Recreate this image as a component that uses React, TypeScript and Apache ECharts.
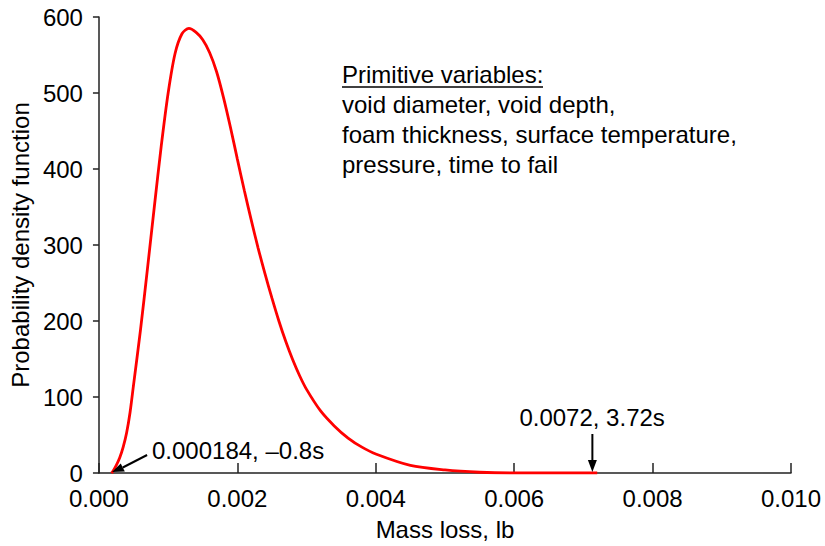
import React, { useEffect, useRef } from "react";
import * as echarts from "echarts";

const xTicks = [0, 0.002, 0.004, 0.006, 0.008, 0.01];
const yTicks = [0, 100, 200, 300, 400, 500, 600];

const massLoss = [
  0.00018, 0.0002, 0.00025, 0.0003, 0.00035, 0.0004, 0.00045, 0.0005, 0.0006,
  0.0007, 0.0008, 0.0009, 0.001, 0.0011, 0.0012, 0.0013, 0.0014, 0.0015,
  0.0016, 0.0017, 0.0018, 0.0019, 0.002, 0.0021, 0.0022, 0.0023, 0.0024,
  0.0025, 0.0026, 0.0027, 0.0028, 0.0029, 0.003, 0.0032, 0.0034, 0.0036,
  0.0038, 0.004, 0.0045, 0.005, 0.0055, 0.006, 0.0066, 0.0072,
];
const pdf = [
  0, 2, 10, 20, 34, 53, 80, 116, 188, 268, 350, 430, 500, 552, 578, 585, 580,
  570, 553, 528, 494, 455, 413, 372, 333, 296, 262, 230, 200, 173, 149, 128,
  110, 82, 62, 46, 34, 25, 10, 4, 1, 0, 0, 0,
];

const noteLines = [
  "Primitive variables:",
  "void diameter, void depth,",
  "foam thickness, surface temperature,",
  "pressure, time to fail",
];
const lowLabel = "0.000184, \u20130.8s";
const lowPoint = [0.00019, 0];
const highLabel = "0.0072, 3.72s";
const highPoint = [0.00713, 0];

const FONT = "'Liberation Sans', Arial, sans-serif";

export default function App() {
  const ref = useRef<HTMLDivElement>(null);
  useEffect(() => {
    if (!ref.current) return;
    const chart = echarts.init(ref.current, undefined, { renderer: "svg" });
    const option: any = {
      animation: false,
      backgroundColor: "#fff",
      textStyle: { fontFamily: FONT },
      grid: { left: 98, right: 34, top: 17, bottom: 72 },
      xAxis: {
        type: "value",
        min: xTicks[0],
        max: xTicks[xTicks.length - 1],
        interval: 0.002,
        name: "Mass loss, lb",
        nameLocation: "middle",
        nameGap: 44,
        nameTextStyle: { fontSize: 24, color: "#000", fontFamily: FONT },
        axisLine: { lineStyle: { color: "#222", width: 1.5 } },
        axisTick: { inside: true, length: 10, lineStyle: { color: "#222", width: 1.5 } },
        axisLabel: {
          fontSize: 24,
          color: "#000",
          margin: 13,
          fontFamily: FONT,
          formatter: (v: number) => v.toFixed(3),
        },
        splitLine: { show: false },
      },
      yAxis: {
        type: "value",
        min: yTicks[0],
        max: yTicks[yTicks.length - 1],
        interval: 100,
        name: "Probability density function",
        nameLocation: "middle",
        nameGap: 61,
        nameTextStyle: { fontSize: 24, color: "#000", fontFamily: FONT },
        axisLine: { show: true, lineStyle: { color: "#222", width: 1.5 } },
        axisTick: { show: true, inside: false, length: 6, lineStyle: { color: "#222", width: 1.5 } },
        axisLabel: { fontSize: 24, color: "#000", margin: 16, fontFamily: FONT },
        splitLine: { show: false },
      },
      series: [
        {
          type: "line",
          data: massLoss.map((x, i) => [x, pdf[i]]),
          smooth: 0.3,
          symbol: "none",
          lineStyle: { color: "#ff0000", width: 2.8 },
          z: 3,
        },
      ],
    };
    chart.setOption(option);

    const [lx, ly] = chart.convertToPixel({ gridIndex: 0 }, lowPoint) as number[];
    const [hx, hy] = chart.convertToPixel({ gridIndex: 0 }, highPoint) as number[];

    const tailL = [lx + 35, ly - 18];
    const dx = lx - tailL[0];
    const dy = ly - tailL[1];
    const len = Math.sqrt(dx * dx + dy * dy);
    const ux = dx / len;
    const uy = dy / len;
    const bx = lx - ux * 12;
    const by = ly - uy * 12;
    const nx = -uy;
    const ny = ux;

    const graphics: any[] = [];
    noteLines.forEach((t, i) => {
      graphics.push({
        type: "text",
        x: 342,
        y: 74 + i * 30,
        style: {
          text: t,
          fontSize: 24,
          fontFamily: FONT,
          fill: "#000",
          verticalAlign: "middle",
          align: "left",
        },
        z: 10,
      });
    });
    graphics.push({
      type: "line",
      shape: { x1: 342, y1: 87, x2: 543, y2: 87 },
      style: { stroke: "#000", lineWidth: 1.5 },
      z: 10,
    });
    graphics.push({
      type: "text",
      x: 152,
      y: 450,
      style: { text: lowLabel, fontSize: 24, fontFamily: FONT, fill: "#000", verticalAlign: "middle" },
      z: 10,
    });
    graphics.push({
      type: "line",
      shape: { x1: tailL[0], y1: tailL[1], x2: bx, y2: by },
      style: { stroke: "#000", lineWidth: 2 },
      z: 10,
    });
    graphics.push({
      type: "polygon",
      shape: {
        points: [
          [lx, ly - 1],
          [bx + nx * 4.5, by + ny * 4.5],
          [bx - nx * 4.5, by - ny * 4.5],
        ],
      },
      style: { fill: "#000" },
      z: 10,
    });
    graphics.push({
      type: "text",
      x: hx - 73,
      y: 417,
      style: { text: highLabel, fontSize: 24, fontFamily: FONT, fill: "#000", verticalAlign: "middle" },
      z: 10,
    });
    graphics.push({
      type: "line",
      shape: { x1: hx, y1: hy - 39, x2: hx, y2: hy - 12 },
      style: { stroke: "#000", lineWidth: 2 },
      z: 10,
    });
    graphics.push({
      type: "polygon",
      shape: {
        points: [
          [hx, hy - 1],
          [hx - 4.5, hy - 13],
          [hx + 4.5, hy - 13],
        ],
      },
      style: { fill: "#000" },
      z: 10,
    });
    chart.setOption({ graphic: graphics });

    return () => chart.dispose();
  }, []);
  return (
    <div
      ref={ref}
      style={{ position: "absolute", left: 0, top: 0, width: 825, height: 546, background: "#fff" }}
    />
  );
}
